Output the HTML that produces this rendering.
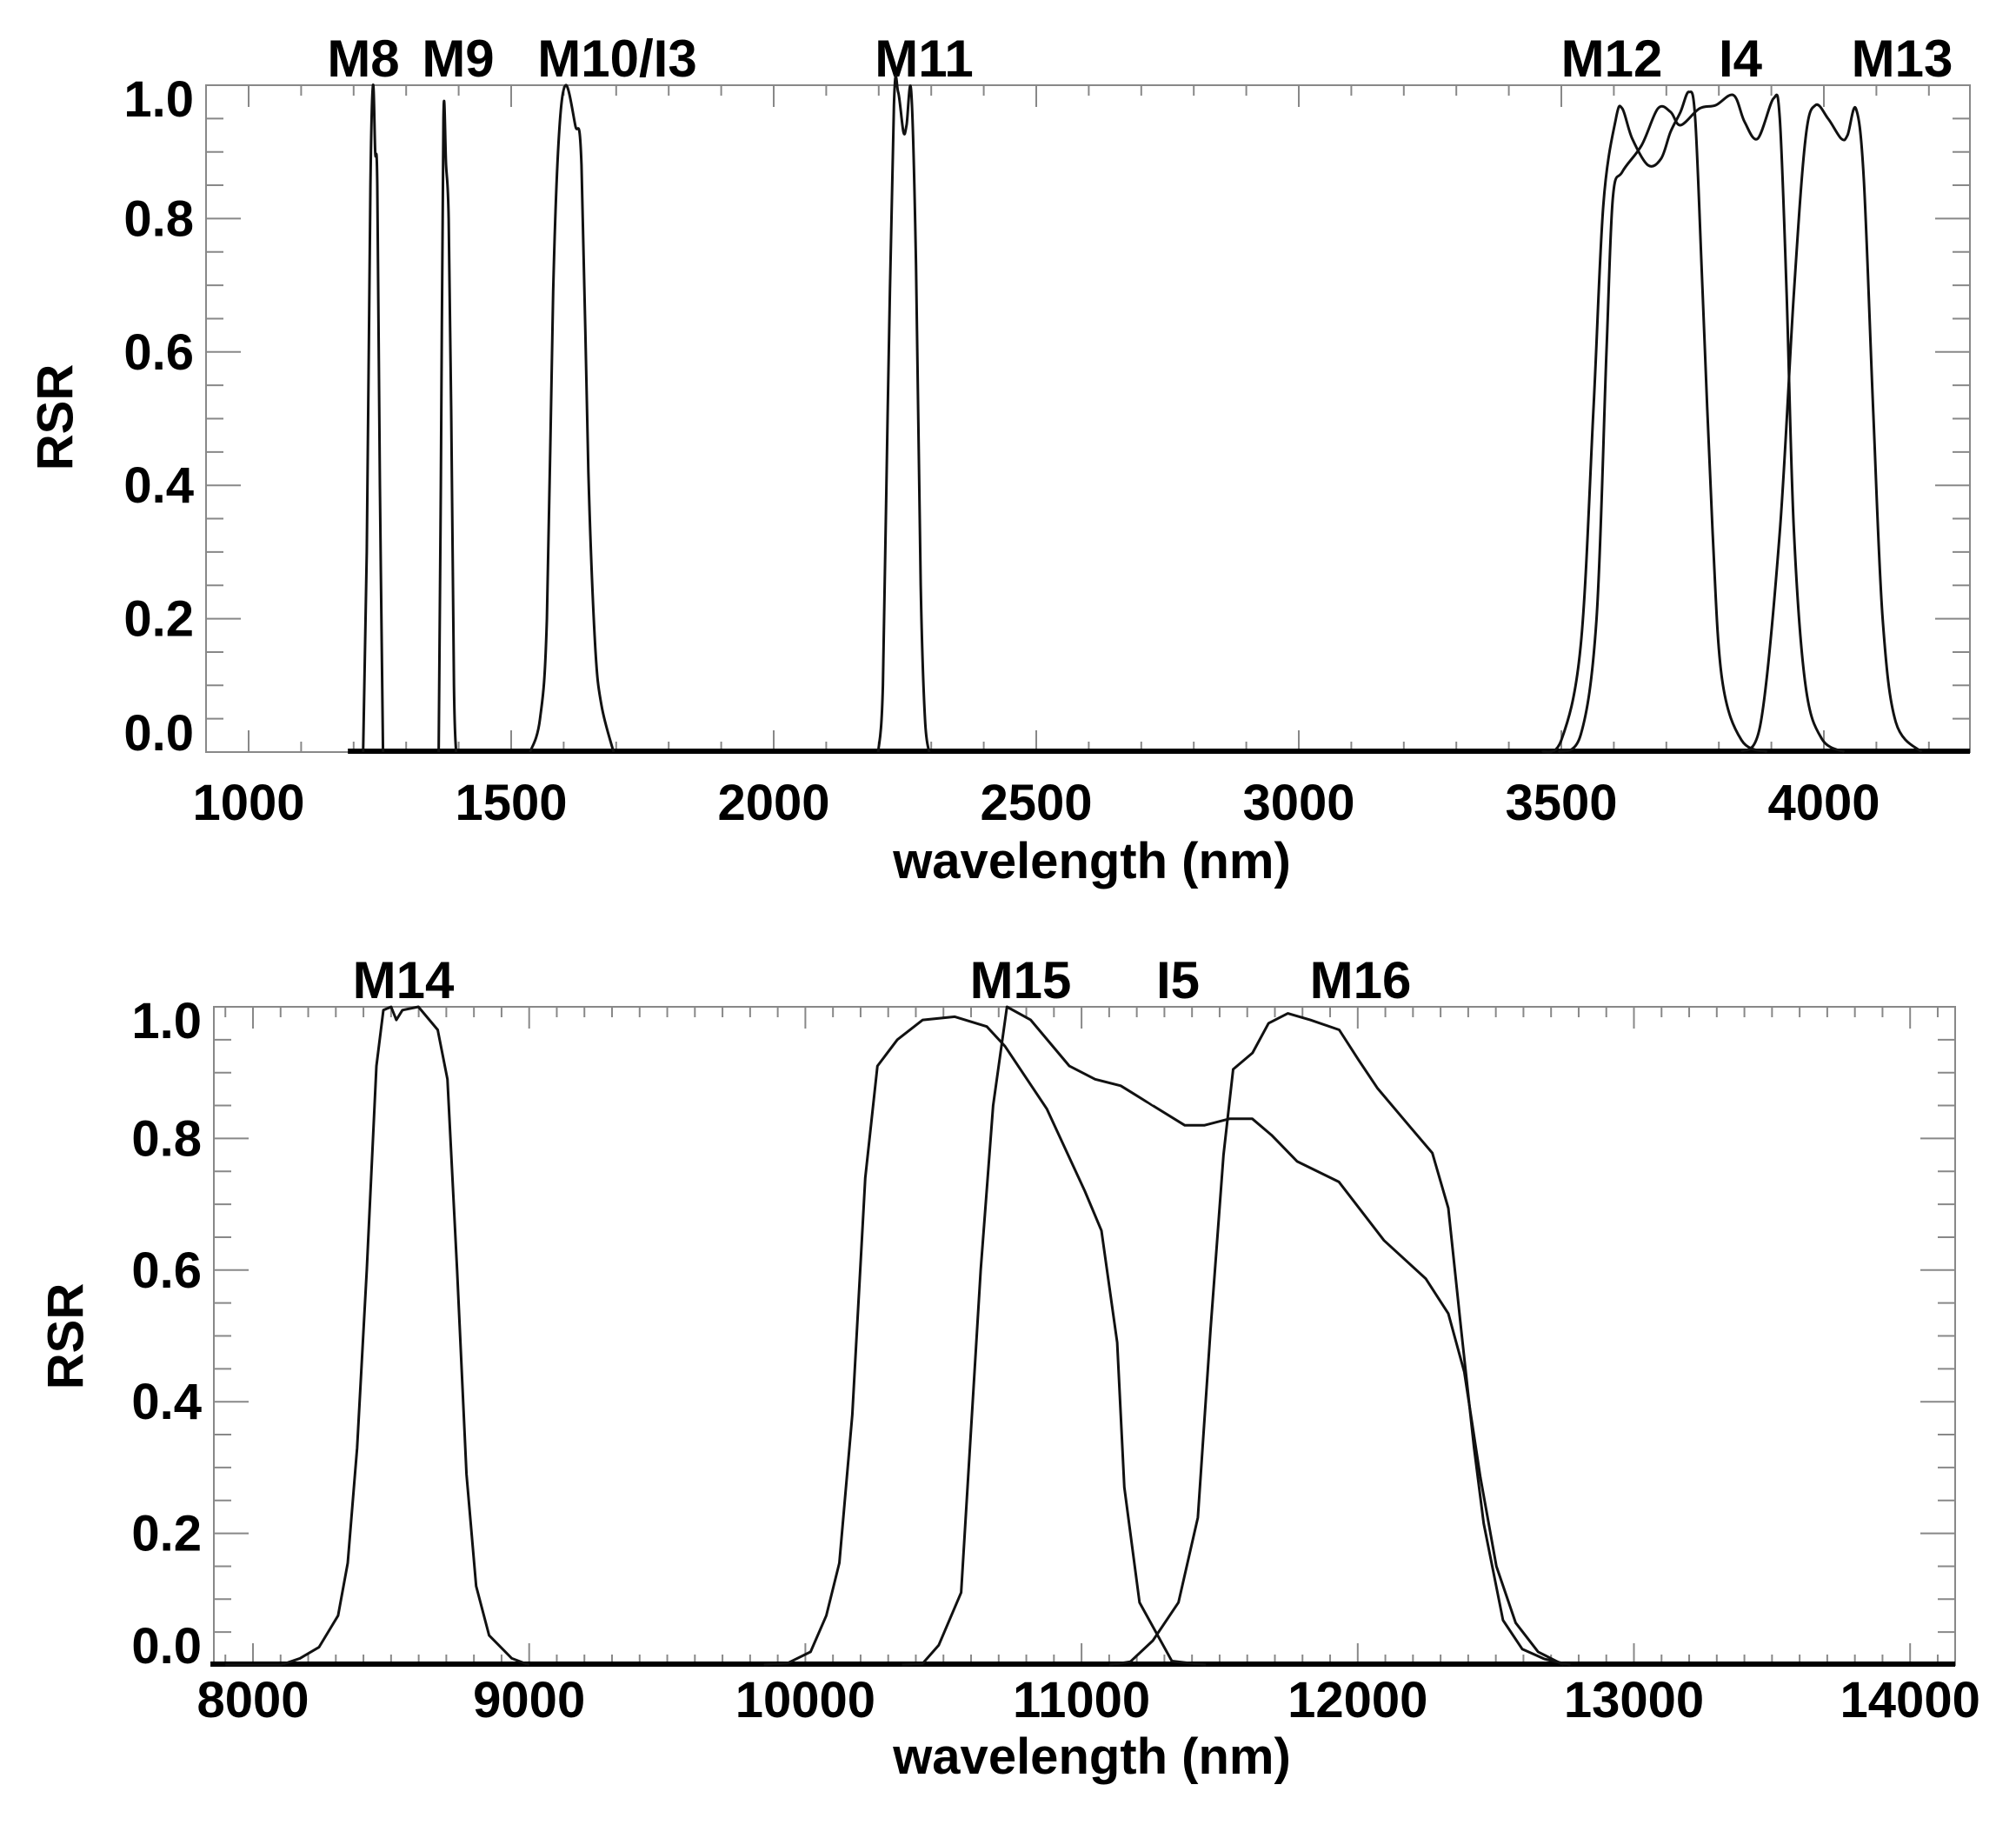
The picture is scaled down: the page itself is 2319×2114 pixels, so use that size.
<!DOCTYPE html>
<html><head><meta charset="utf-8"><style>
html,body{margin:0;padding:0;background:#fff;}
svg{display:block;}
text{font-family:"Liberation Sans",Arial,sans-serif;font-weight:bold;fill:#000;}
</style></head><body>
<svg id="s" width="2319" height="2114" xmlns="http://www.w3.org/2000/svg"></svg>
<script>
const S=document.getElementById('s');let h='';
function P(o){
 const X=v=>o.x0+(v-o.n0)*o.k, Y=v=>o.yb-(v)*(o.yb-o.yt);
 h+=`<rect x="${o.L}" y="${o.yt}" width="${o.R-o.L}" height="${o.yb-o.yt}" fill="none" stroke="#888" stroke-width="2"/>`;
 for(let i=0;i<=20;i++){const v=i*0.05,y=Y(v),maj=i%4==0,len=maj?40:20;
  h+=`<line x1="${o.L}" x2="${o.L+len}" y1="${y}" y2="${y}" stroke="#888" stroke-width="2"/>`;
  h+=`<line x1="${o.R}" x2="${o.R-len}" y1="${y}" y2="${y}" stroke="#888" stroke-width="2"/>`;
  if(maj){let ty=y+20;if(i==20)ty=y+36;if(i==0)ty=y-2;
   h+=`<text x="${o.L-14}" y="${ty}" font-size="58" text-anchor="end">${v.toFixed(1)}</text>`;}
 }
 for(let n=Math.ceil(o.nL/100)*100;n<=o.nR;n+=100){const x=X(n),maj=n%o.maj==0,len=maj?25:12;
  h+=`<line x1="${x}" x2="${x}" y1="${o.yb}" y2="${o.yb-len}" stroke="#888" stroke-width="2"/>`;
  h+=`<line x1="${x}" x2="${x}" y1="${o.yt}" y2="${o.yt+len}" stroke="#888" stroke-width="2"/>`;
  if(maj)h+=`<text x="${x}" y="${o.yb+o.xo}" font-size="58" text-anchor="middle">${n}</text>`;
 }
 h+=`<text x="${o.xlx}" y="${o.xly}" font-size="58" text-anchor="middle">wavelength (nm)</text>`;
 h+=`<text transform="translate(${o.rx},${o.ry}) rotate(-90)" font-size="58" text-anchor="middle" dominant-baseline="middle">RSR</text>`;
 o.labels.forEach(l=>h+=`<text x="${l[1]}" y="${l[2]}" font-size="60" text-anchor="middle">${l[0]}</text>`);
 h+=`<line x1="${X(o.bs)}" x2="${o.R}" y1="${o.yb-1}" y2="${o.yb-1}" stroke="#000" stroke-width="6"/>`;
 o.curves.forEach(c=>{
  const pts=c.map(p=>[X(p[0]),Y(p[1])]);
  let d='M'+pts[0][0].toFixed(1)+','+pts[0][1].toFixed(1);
  for(let i=0;i<pts.length-1;i++){
   const p0=pts[Math.max(0,i-1)],p1=pts[i],p2=pts[i+1],p3=pts[Math.min(pts.length-1,i+2)];
   const t=o.smooth?6:1e9;
   const c1=[p1[0]+(p2[0]-p0[0])/t,p1[1]+(p2[1]-p0[1])/t],c2=[p2[0]-(p3[0]-p1[0])/t,p2[1]-(p3[1]-p1[1])/t];
   d+=`C${c1[0].toFixed(1)},${c1[1].toFixed(1)} ${c2[0].toFixed(1)},${c2[1].toFixed(1)} ${p2[0].toFixed(1)},${p2[1].toFixed(1)}`;
  }
  h+=`<path d="${d}" fill="none" stroke="#111" stroke-width="3" stroke-linejoin="round"/>`;
 });
}
P({L:237,R:2266,yt:98,yb:865,x0:286,n0:1000,k:0.604,nL:919,nR:4278,maj:500,smooth:true,bs:1189,xo:78,
 xlx:1256,xly:1010,rx:68,ry:480,
 labels:[["M8",418,88],["M9",527,88],["M10/I3",710,88],["M11",1063,88],["M12",1854,88],["I4",2002,88],["M13",2188,88]],
 curves:[
 [[1218,0],[1225,0.3],[1232,0.85],[1237,1.0],[1241,0.9],[1245,0.85],[1250,0.4],[1256,0]],
 [[1362,0],[1366,0.4],[1371,0.95],[1376,0.88],[1381,0.8],[1386,0.5],[1391,0.1],[1395,0]],
 [[1536,0],[1555,0.05],[1568,0.2],[1580,0.69],[1591,0.925],[1604,1.0],[1622,0.94],[1634,0.88],[1647,0.42],[1660,0.16],[1672,0.07],[1695,0]],
 [[2199,0],[2208,0.1],[2217,0.51],[2229,0.97],[2237,0.99],[2247,0.93],[2253,0.94],[2262,0.99],[2271,0.73],[2280,0.25],[2288,0.05],[2296,0]],
 [[3463,0],[3500,0.018],[3537,0.16],[3561,0.51],[3580,0.82],[3604,0.95],[3616,0.965],[3635,0.92],[3665,0.88],[3690,0.89],[3708,0.93],[3727,0.96],[3743,0.99],[3755,0.95],[3769,0.69],[3788,0.33],[3806,0.11],[3843,0.018],[3892,0]],
 [[3494,0],[3537,0.026],[3567,0.2],[3586,0.6],[3598,0.83],[3616,0.87],[3653,0.91],[3684,0.965],[3708,0.96],[3727,0.94],[3763,0.965],[3794,0.97],[3828,0.985],[3849,0.945],[3874,0.92],[3904,0.98],[3916,0.95],[3929,0.69],[3943,0.33],[3965,0.1],[3996,0.02],[4039,0]],
 [[3843,0],[3880,0.045],[3916,0.33],[3943,0.69],[3965,0.92],[3984,0.97],[4008,0.95],[4033,0.92],[4045,0.925],[4061,0.965],[4076,0.86],[4094,0.51],[4112,0.2],[4137,0.045],[4186,0]]
 ]});
P({L:246,R:2249,yt:1158,yb:1915,x0:291,n0:8000,k:0.3177,nL:7846,nR:14150,maj:1000,smooth:false,bs:7846,xo:60,
 xlx:1256,xly:2040,rx:80,ry:1537,
 labels:[["M14",464,1148],["M15",1174,1148],["I5",1355,1148],["M16",1565,1148]],
 curves:[
 [[7900,0],[8100,0],[8170,0.01],[8239,0.027],[8308,0.075],[8343,0.155],[8377,0.33],[8412,0.6],[8447,0.91],[8472,0.995],[8500,1.0],[8519,0.98],[8541,0.995],[8599,1.0],[8669,0.965],[8704,0.89],[8739,0.6],[8773,0.29],[8808,0.12],[8855,0.045],[8937,0.01],[9000,0]],
 [[9850,0],[9937,0.003],[10019,0.02],[10076,0.075],[10123,0.155],[10170,0.38],[10217,0.74],[10261,0.91],[10333,0.95],[10425,0.98],[10541,0.985],[10657,0.97],[10723,0.94],[10874,0.845],[11012,0.72],[11072,0.66],[11129,0.49],[11155,0.27],[11210,0.095],[11327,0.006],[11450,0]],
 [[10350,0],[10424,0.002],[10483,0.03],[10564,0.11],[10635,0.6],[10680,0.85],[10730,1.0],[10816,0.98],[10956,0.91],[11049,0.89],[11142,0.88],[11258,0.85],[11374,0.82],[11444,0.82],[11537,0.83],[11618,0.83],[11688,0.805],[11781,0.765],[11932,0.734],[12095,0.645],[12246,0.587],[12328,0.534],[12386,0.445],[12444,0.285],[12502,0.15],[12572,0.064],[12653,0.02],[12746,0]],
 [[11100,0],[11177,0.005],[11258,0.037],[11351,0.095],[11421,0.224],[11467,0.51],[11514,0.775],[11549,0.905],[11619,0.93],[11677,0.975],[11747,0.99],[11828,0.98],[11933,0.965],[12002,0.92],[12072,0.876],[12189,0.818],[12270,0.778],[12328,0.694],[12375,0.508],[12421,0.33],[12456,0.215],[12526,0.068],[12596,0.024],[12677,0.009],[12770,0]]
 ]});
S.innerHTML=h;
</script>
</body></html>
